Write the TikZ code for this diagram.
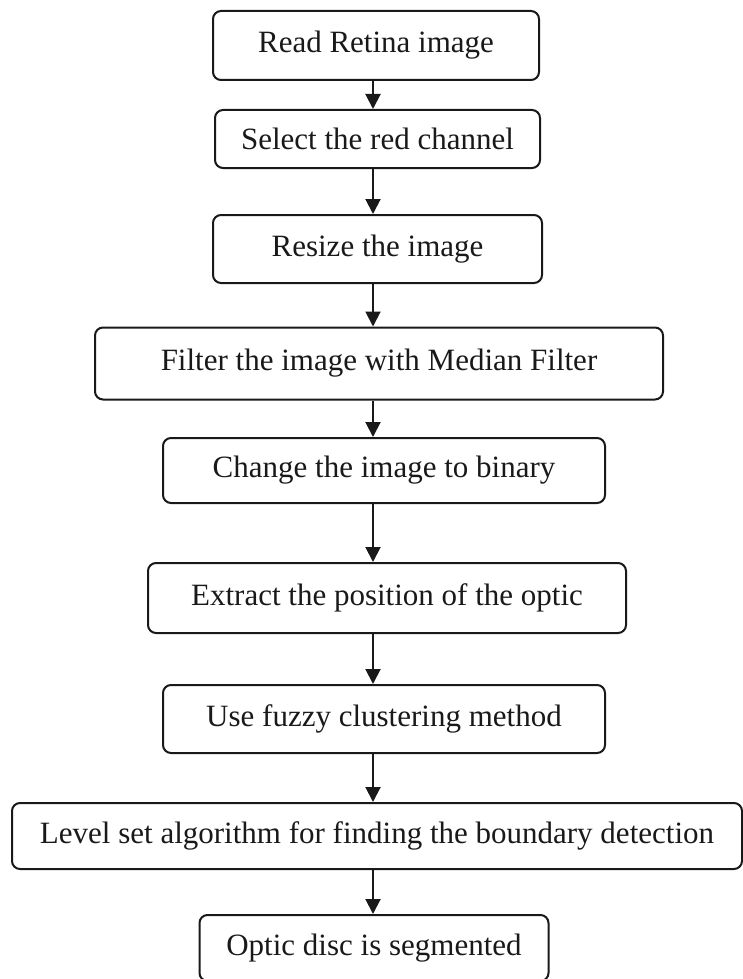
\documentclass[tikz,border=0pt]{standalone}
\usepackage{fontspec}
\setmainfont{Liberation Serif}
\usetikzlibrary{arrows.meta}
\begin{document}
\begin{tikzpicture}[x=1pt,y=-1pt,
    stepbox/.style={draw=black!90,line width=2pt,rounded corners=8pt,inner sep=0pt,
        font=\fontsize{31}{36}\selectfont,text=black!90},
    flow/.style={draw=black!90,line width=2pt,-{Triangle[length=15pt,width=15pt]}}]
        \useasboundingbox (0,0) rectangle (743,979);
        %画各步骤框
        \node[stepbox,minimum width=326pt,minimum height=69pt] (read) at (376,45.5) {Read Retina image};
        \node[stepbox,minimum width=325pt,minimum height=58pt] (red) at (377.5,139) {Select the red channel};
        \node[stepbox,minimum width=329pt,minimum height=68pt] (resize) at (377.5,249) {Resize the image};
        \node[stepbox,minimum width=568pt,minimum height=72pt] (median) at (379,363.5) {Filter the image with Median Filter};
        \node[stepbox,minimum width=442pt,minimum height=65pt] (binary) at (384,470.5) {Change the image to binary};
        \node[stepbox,minimum width=478pt,minimum height=70pt] (optic) at (387,598) {Extract the position of the optic};
        \node[stepbox,minimum width=442pt,minimum height=68pt] (fuzzy) at (384,719) {Use fuzzy clustering method};
        \node[stepbox,minimum width=730pt,minimum height=66pt] (level) at (377,836) {Level set algorithm for finding the boundary detection};
        \node[stepbox,minimum width=349pt,minimum height=66pt] (disc) at (374,948) {Optic disc is segmented};
        %画箭头
        \coordinate (spine) at (373,0);
        \foreach \a/\b in {read/red,red/resize,resize/median,median/binary,binary/optic,optic/fuzzy,fuzzy/level,level/disc}
                \draw[flow] (\a.south -| spine) -- (\b.north -| spine);
\end{tikzpicture}
\end{document}
